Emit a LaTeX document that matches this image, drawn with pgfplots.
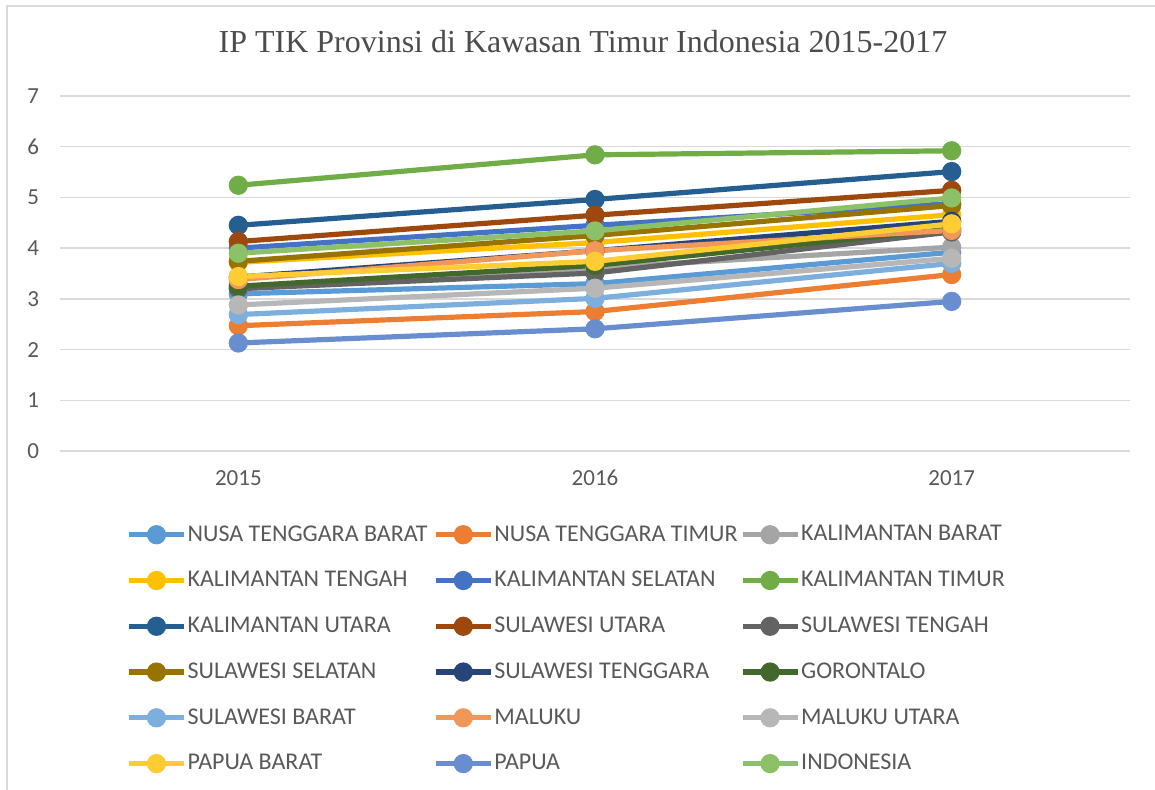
\documentclass[border=0pt]{standalone}
\usepackage{pgfplots}
\pgfplotsset{compat=1.18}
\usepackage{fontspec}
\setmainfont{Carlito}
\newfontfamily\titlefont{Liberation Serif}

\definecolor{c1}{HTML}{5B9BD5}
\definecolor{c2}{HTML}{ED7D31}
\definecolor{c3}{HTML}{A5A5A5}
\definecolor{c4}{HTML}{FFC000}
\definecolor{c5}{HTML}{4472C4}
\definecolor{c6}{HTML}{70AD47}
\definecolor{c7}{HTML}{255E91}
\definecolor{c8}{HTML}{9E480E}
\definecolor{c9}{HTML}{636363}
\definecolor{c10}{HTML}{997300}
\definecolor{c11}{HTML}{264478}
\definecolor{c12}{HTML}{43682B}
\definecolor{c13}{HTML}{7CAFDD}
\definecolor{c14}{HTML}{F1975A}
\definecolor{c15}{HTML}{B7B7B7}
\definecolor{c16}{HTML}{FFCD33}
\definecolor{c17}{HTML}{698ED0}
\definecolor{c18}{HTML}{8CC168}
\definecolor{gridc}{HTML}{D9D9D9}
\definecolor{txt}{HTML}{595959}

\newcommand{\lgd}[1]{\addlegendentry{\makebox[119.3pt][l]{\hspace*{-1.5pt}#1}}}

\begin{document}
\begin{tikzpicture}
\useasboundingbox (0,0) rectangle (577.5pt,394.5pt);
\draw[gridc, line width=1.2pt] (3.5pt,-10pt) -- (3.5pt,391.5pt) -- (590pt,391.5pt);
\begin{axis}[
  at={(30pt,169pt)}, anchor=south west,
  scale only axis, width=535pt, height=177.5pt,
  xmin=-0.5, xmax=2.5, ymin=0, ymax=7,
  xtick={0,1,2}, xticklabels={2015,2016,2017},
  ytick={0,1,...,7},
  axis line style={draw=none},
  tick style={draw=none},
  ymajorgrids, grid style={gridc, line width=0.75pt},
  tick label style={font=\fontsize{11.5}{13}\selectfont, text=txt},
  /pgf/number format/assume math mode=true,
  xticklabel style={yshift=-6pt},
  yticklabel style={xshift=-7pt},
  title={\titlefont IP TIK Provinsi di Kawasan Timur Indonesia 2015-2017},
  title style={at={(0.5,1)}, anchor=center, yshift=21pt, xshift=-6pt,
    font=\fontsize{16}{18}\selectfont, text=txt!85!black},
  every axis plot/.append style={line width=2.6pt, mark=*, mark size=3.5pt},
  legend columns=3,
  legend style={at={(0.5,-0.186)}, anchor=north, xshift=-4.2pt, draw=none, fill=none,
    font=\fontsize{12}{13}\selectfont, text=txt,
    cells={anchor=west}, row sep=9.6pt,
    /tikz/every odd column/.append style={column sep=0pt}},
  legend image code/.code={\draw[mark repeat=2,mark phase=2] plot coordinates {(0pt,0pt) (13.75pt,0pt) (27.5pt,0pt)};},
]
\addplot[c1, mark options={fill=c1}] coordinates {(0,3.10) (1,3.30) (2,3.92)}; \lgd{NUSA TENGGARA BARAT}
\addplot[c2, mark options={fill=c2}] coordinates {(0,2.47) (1,2.75) (2,3.48)}; \lgd{NUSA TENGGARA TIMUR}
\addplot[c3, mark options={fill=c3}] coordinates {(0,3.20) (1,3.61) (2,4.02)}; \lgd{KALIMANTAN BARAT}
\addplot[c4, mark options={fill=c4}] coordinates {(0,3.72) (1,4.11) (2,4.66)}; \lgd{KALIMANTAN TENGAH}
\addplot[c5, mark options={fill=c5}] coordinates {(0,4.00) (1,4.45) (2,4.88)}; \lgd{KALIMANTAN SELATAN}
\addplot[c6, mark options={fill=c6}] coordinates {(0,5.24) (1,5.84) (2,5.92)}; \lgd{KALIMANTAN TIMUR}
\addplot[c7, mark options={fill=c7}] coordinates {(0,4.45) (1,4.96) (2,5.51)}; \lgd{KALIMANTAN UTARA}
\addplot[c8, mark options={fill=c8}] coordinates {(0,4.13) (1,4.65) (2,5.14)}; \lgd{SULAWESI UTARA}
\addplot[c9, mark options={fill=c9}] coordinates {(0,3.20) (1,3.51) (2,4.32)}; \lgd{SULAWESI TENGAH}
\addplot[c10, mark options={fill=c10}] coordinates {(0,3.74) (1,4.25) (2,4.84)}; \lgd{SULAWESI SELATAN}
\addplot[c11, mark options={fill=c11}] coordinates {(0,3.43) (1,3.95) (2,4.53)}; \lgd{SULAWESI TENGGARA}
\addplot[c12, mark options={fill=c12}] coordinates {(0,3.25) (1,3.66) (2,4.38)}; \lgd{GORONTALO}
\addplot[c13, mark options={fill=c13}] coordinates {(0,2.69) (1,3.01) (2,3.70)}; \lgd{SULAWESI BARAT}
\addplot[c14, mark options={fill=c14}] coordinates {(0,3.38) (1,3.95) (2,4.35)}; \lgd{MALUKU}
\addplot[c15, mark options={fill=c15}] coordinates {(0,2.88) (1,3.21) (2,3.80)}; \lgd{MALUKU UTARA}
\addplot[c16, mark options={fill=c16}] coordinates {(0,3.44) (1,3.74) (2,4.48)}; \lgd{PAPUA BARAT}
\addplot[c17, mark options={fill=c17}] coordinates {(0,2.13) (1,2.41) (2,2.95)}; \lgd{PAPUA}
\addplot[c18, mark options={fill=c18}] coordinates {(0,3.90) (1,4.34) (2,4.99)}; \lgd{INDONESIA}
\end{axis}
\end{tikzpicture}
\end{document}
